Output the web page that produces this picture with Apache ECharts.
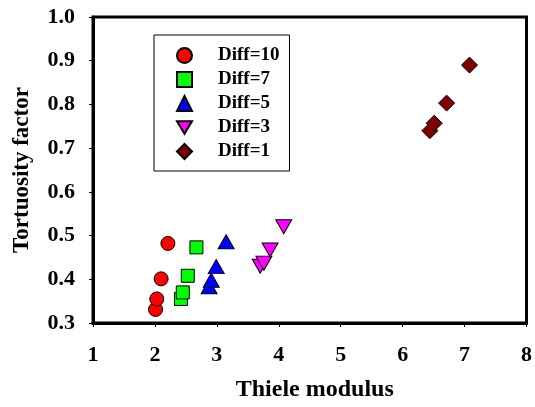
<!DOCTYPE html>
<html>
<head>
<meta charset="utf-8">
<script src="https://cdn.jsdelivr.net/npm/echarts@6/dist/echarts.min.js"></script>
<style>html,body{margin:0;padding:0;background:#fff;}#c{width:535px;height:407px;}</style>
</head>
<body>
<div id="c"></div>
<script>
const seriesNames = ['Diff=10', 'Diff=7', 'Diff=5', 'Diff=3', 'Diff=1'];
const diff10 = [[2.01, 0.331], [2.03, 0.355], [2.10, 0.401], [2.21, 0.482]];
const diff7 = [[2.42, 0.355], [2.45, 0.370], [2.53, 0.408], [2.67, 0.473]];
const diff5 = [[2.875, 0.383], [2.91, 0.398], [2.99, 0.429], [3.15, 0.486]];
const diff3 = [[3.70, 0.430], [3.76, 0.437], [3.86, 0.467], [4.08, 0.520]];
const diff1 = [[6.44, 0.740], [6.51, 0.757], [6.71, 0.803], [7.08, 0.890]];
const xTicks = [1, 2, 3, 4, 5, 6, 7, 8];
const yTicks = [0.3, 0.4, 0.5, 0.6, 0.7, 0.8, 0.9, 1.0];

const FONT = 'Liberation Serif';
const chart = echarts.init(document.getElementById('c'), null, {renderer: 'canvas'});
const border = {borderColor: '#000', borderWidth: 1};
const downTri = 'path://M0,0 L20,0 L10,17 Z';
function mk(name, data, symbol, size, color) {
  return {
    name: name, type: 'scatter', data: data, symbol: symbol, symbolSize: size,
    itemStyle: Object.assign({color: color, opacity: 1}, border),
    emphasis: {disabled: true}
  };
}
chart.setOption({
  animation: false,
  backgroundColor: '#fff',
  grid: {left: 93, right: 6, top: 17, bottom: 84, show: true, borderColor: '#000', borderWidth: 3},
  legend: {
    orient: 'vertical', left: 154, top: 35,
    padding: [11, 10, 10, 22],
    itemWidth: 15, itemHeight: 15, itemGap: 5,
    backgroundColor: '#fff', borderColor: '#000', borderWidth: 1,
    textStyle: {fontFamily: FONT, fontWeight: 'bold', fontSize: 19, color: '#000', padding: [0, 0, 0, 21]},
    data: seriesNames
  },
  xAxis: {
    type: 'value', min: xTicks[0], max: xTicks[xTicks.length - 1], interval: 1,
    name: 'Thiele modulus', nameLocation: 'middle', nameGap: 55,
    nameTextStyle: {fontFamily: FONT, fontWeight: 'bold', fontSize: 24, color: '#000', padding: [0, 0, 0, 10]},
    axisLine: {show: true, lineStyle: {color: '#000', width: 3}},
    axisTick: {show: true, length: 4, lineStyle: {color: '#000', width: 1}},
    axisLabel: {fontFamily: FONT, fontWeight: 'bold', fontSize: 22, color: '#000', margin: 21},
    splitLine: {show: false}
  },
  yAxis: {
    type: 'value', min: yTicks[0], max: yTicks[yTicks.length - 1], interval: 0.1,
    name: 'Tortuosity factor', nameLocation: 'middle', nameGap: 59,
    nameTextStyle: {fontFamily: FONT, fontWeight: 'bold', fontSize: 23, color: '#000'},
    axisLine: {show: true, lineStyle: {color: '#000', width: 3}},
    axisTick: {show: true, length: 4, lineStyle: {color: '#000', width: 1}},
    axisLabel: {fontFamily: FONT, fontWeight: 'bold', fontSize: 22, color: '#000', margin: 18,
      formatter: v => v.toFixed(1)},
    splitLine: {show: false}
  },
  series: [
    mk(seriesNames[0], diff10, 'circle', 14, '#FF0000'),
    mk(seriesNames[1], diff7, 'rect', 13, '#00FF00'),
    mk(seriesNames[2], diff5, 'triangle', [16, 14], '#0000FF'),
    mk(seriesNames[3], diff3, downTri, [16, 14], '#FF00FF'),
    mk(seriesNames[4], diff1, 'diamond', [16, 16], '#800000')
  ]
});
</script>
</body>
</html>
